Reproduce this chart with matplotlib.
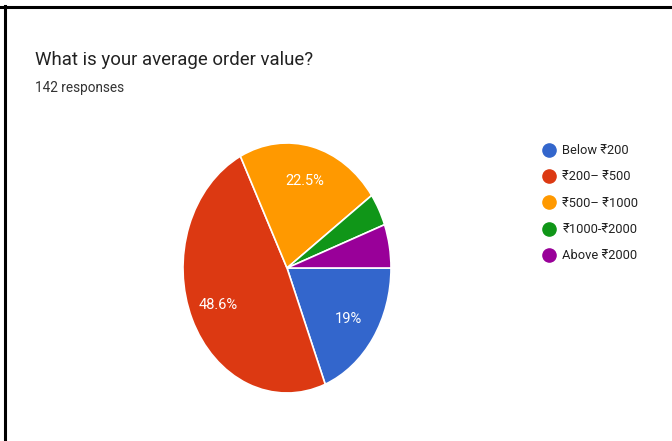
import matplotlib.pyplot as plt
from matplotlib.lines import Line2D

# Datos (142 respuestas)
labels = ["Below ₹200", "₹200– ₹500", "₹500– ₹1000", "₹1000-₹2000", "Above ₹2000"]
counts = [27, 69, 32, 6, 8]
colors = ["#3366CC", "#DC3912", "#FF9900", "#109618", "#990099"]

plt.rcParams['font.family'] = ['Roboto', 'DejaVu Sans']

fig = plt.figure(figsize=(6.72, 4.41), dpi=100)
fig.patch.set_facecolor('white')

# marco negro (arriba e izquierda)
fig.add_artist(Line2D([0.0, 1.0], [1 - 7 / 441, 1 - 7 / 441], transform=fig.transFigure,
                      color='black', lw=2.2))
fig.add_artist(Line2D([5 / 672, 5 / 672], [0.0, 1 - 6 / 441], transform=fig.transFigure,
                      color='black', lw=2.2))

fig.text(35 / 672, 1 - 65 / 441, "What is your average order value?", fontsize=13.4,
         color='#222222', va='baseline')
fig.text(35 / 672, 1 - 92 / 441, "142 responses", fontsize=9.8, color='#333333', va='baseline')

# pie (elipse: ancho 208 px, alto 250 px, centro en 287,268)
ax = fig.add_axes([(287 - 104) / 672, (441 - 393) / 441, 208 / 672, 250 / 441])


def fmt(p):
    return f"{p:.1f}%".replace(".0%", "%") if p > 10 else ""


wedges, texts, autotexts = ax.pie(counts, colors=colors, startangle=0, counterclock=False,
                                  autopct=fmt, pctdistance=0.72, radius=1,
                                  wedgeprops=dict(edgecolor='white', linewidth=1.2),
                                  textprops=dict(color='white', fontsize=10.5))
ax.set_aspect('auto')
ax.set_xlim(-1, 1)
ax.set_ylim(-1, 1)
ax.axis('off')

handles = [Line2D([], [], marker='o', linestyle='none', markersize=9.5,
                  markerfacecolor=c, markeredgecolor=c) for c in colors]
fig.legend(handles, labels, loc='upper left', bbox_to_anchor=(537 / 672, 1 - 139 / 441),
           frameon=False, fontsize=9.3, labelspacing=1.03, handletextpad=0.55,
           handlelength=1.0, borderaxespad=0, labelcolor='#222222')

plt.savefig("out.png", dpi=100)
